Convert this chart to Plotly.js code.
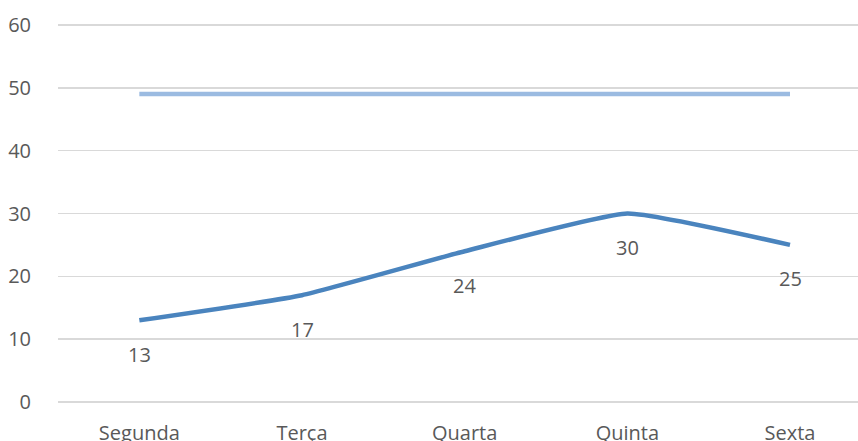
<!DOCTYPE html>
<html>
<head>
<meta charset="utf-8">
<script src="https://cdn.plot.ly/plotly-3.0.1.min.js"></script>
<style>
  html, body { margin: 0; padding: 0; background: #fff; }
  #chart { width: 858px; height: 441px; }
</style>
</head>
<body>
<div id="chart"></div>
<script>
// Weekdays and the two series
const days = ['Segunda', 'Terça', 'Quarta', 'Quinta', 'Sexta'];
const actual = [13, 17, 24, 30, 25];
const target = [49, 49, 49, 49, 49];
const yTicks = [0, 10, 20, 30, 40, 50, 60];

const font = { family: '"Open Sans", "Noto Sans", sans-serif', size: 20, color: '#595959' };

const traces = [
  {
    x: days, y: target, type: 'scatter', mode: 'lines',
    line: { color: '#9BBBE1', width: 4.5 },
    hoverinfo: 'skip'
  },
  {
    x: days, y: actual, type: 'scatter', mode: 'lines',
    line: { color: '#4A84BE', width: 4.5, shape: 'spline', smoothing: 0.4 },
    hoverinfo: 'skip'
  }
];

// Value labels sit below each point of the lower series
const annotations = days.map((d, i) => ({
  x: d, y: actual[i], xref: 'x', yref: 'y',
  text: String(actual[i]), showarrow: false,
  yshift: -34, xanchor: 'center', yanchor: 'middle',
  font: font
}));

const layout = {
  width: 858, height: 441,
  margin: { l: 58, r: 0, t: 24, b: 38 },
  paper_bgcolor: '#ffffff', plot_bgcolor: '#ffffff',
  showlegend: false,
  font: font,
  xaxis: {
    type: 'category', range: [-0.5, 4.418],
    showgrid: false, zeroline: false, showline: false,
    ticks: 'outside', ticklen: 12, tickcolor: 'rgba(0,0,0,0)',
    tickfont: font, fixedrange: true
  },
  yaxis: {
    // a hair of padding so the 0 and 60 gridlines are drawn
    range: [-0.16, 60.16], tickvals: yTicks, ticktext: yTicks.map(String),
    showgrid: true, gridcolor: '#D9D9D9', gridwidth: 1.5,
    zeroline: false, showline: false,
    ticks: 'outside', ticklen: 22, tickcolor: 'rgba(0,0,0,0)',
    tickfont: font, fixedrange: true
  },
  annotations: annotations
};

Plotly.newPlot('chart', traces, layout, { staticPlot: true, displayModeBar: false });
</script>
</body>
</html>
